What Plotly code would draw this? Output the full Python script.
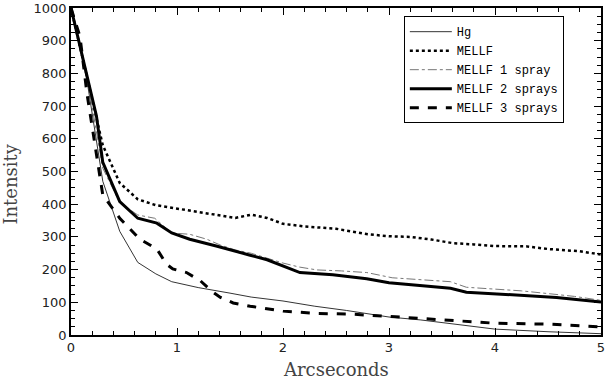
import plotly.graph_objects as go

# Radial profiles
hg_x = [0, 0.15, 0.3, 0.46, 0.63, 0.8, 0.95, 1.2, 1.5, 1.7, 2.0, 2.3, 2.6, 3.0, 3.3, 3.6, 4.0, 4.5, 5.0]
hg_y = [1000, 780, 470, 317, 222, 187, 163, 145, 128, 116, 104, 88, 75, 55, 46, 34, 18, 10, 4]

mellf_x = [0, 0.15, 0.3, 0.46, 0.63, 0.8, 1.0, 1.22, 1.4, 1.55, 1.7, 1.85, 2.0, 2.2, 2.5,
           2.8, 3.0, 3.2, 3.4, 3.6, 3.8, 4.0, 4.3, 4.5, 4.8, 5.0]
mellf_y = [1000, 790, 580, 465, 415, 397, 387, 376, 367, 358, 368, 358, 340, 332, 325,
           308, 302, 300, 292, 281, 277, 272, 271, 263, 256, 246]

spray1_x = [0, 0.15, 0.3, 0.46, 0.63, 0.79, 0.95, 1.12, 1.28, 1.41, 1.55, 1.7, 1.85, 2.0,
            2.15, 2.32, 2.55, 2.79, 3.03, 3.3, 3.58, 3.73, 4.0, 4.25, 4.52, 4.75, 5.0]
spray1_y = [1000, 790, 510, 405, 367, 357, 312, 308, 293, 275, 260, 250, 235, 220,
            208, 199, 196, 191, 175, 170, 163, 146, 141, 135, 126, 118, 106]

spray2_x = [0, 0.15, 0.24, 0.3, 0.46, 0.63, 0.81, 0.95, 1.12, 1.37, 1.53, 1.69, 1.85, 2.0,
            2.16, 2.47, 2.79, 3.0, 3.32, 3.58, 3.73, 4.0, 4.36, 4.58, 5.0]
spray2_y = [1000, 795, 670, 528, 408, 357, 342, 312, 293, 272, 257, 244, 230, 211,
            191, 184, 172, 160, 151, 143, 131, 126, 121, 115, 101]

spray3_x = [0, 0.085, 0.15, 0.24, 0.3, 0.46, 0.65, 0.81, 0.9, 0.96, 1.09, 1.22, 1.34, 1.41,
            1.53, 1.69, 2.0, 2.32, 2.63, 3.0, 3.58, 4.0, 4.52, 5.0]
spray3_y = [1000, 912, 740, 549, 428, 357, 293, 263, 217, 202, 191, 166, 131, 115,
            98, 88, 73, 66, 64, 57, 45, 36, 33, 25]

data = [
    go.Scatter(x=hg_x, y=hg_y, mode='lines', name='Hg',
               line=dict(color='black', width=0.8)),
    go.Scatter(x=mellf_x, y=mellf_y, mode='lines', name='MELLF',
               line=dict(color='black', width=2.5, dash='dot')),
    go.Scatter(x=spray1_x, y=spray1_y, mode='lines', name='MELLF 1 spray',
               line=dict(color='#777777', width=1, dash='dashdot')),
    go.Scatter(x=spray2_x, y=spray2_y, mode='lines', name='MELLF 2 sprays',
               line=dict(color='black', width=3)),
    go.Scatter(x=spray3_x, y=spray3_y, mode='lines', name='MELLF 3 sprays',
               line=dict(color='black', width=3, dash='dash')),
]

axis_common = dict(
    showline=True, linecolor='black', linewidth=1.5, mirror='ticks',
    ticks='inside', ticklen=7, tickwidth=1.2, tickcolor='black',
    showgrid=False, zeroline=False, automargin=False,
    ticklabeloverflow='allow',
    tickfont=dict(family='DejaVu Sans', size=13, color='#222'),
)

title_font = dict(family='DejaVu Serif', size=18, color='#444')

layout = go.Layout(
    width=605, height=380,
    margin=dict(l=71, r=4, t=8, b=45),
    paper_bgcolor='white', plot_bgcolor='white',
    showlegend=True,
    legend=dict(x=0.628, y=0.975, xanchor='left', yanchor='top',
                bordercolor='black', borderwidth=1, bgcolor='white',
                font=dict(family='Liberation Mono', size=12, color='black'),
                tracegroupgap=0, itemwidth=42),
    xaxis=dict(axis_common, range=[0, 5], dtick=1,
               minor=dict(dtick=0.2, ticks='inside', ticklen=4, tickcolor='black')),
    yaxis=dict(axis_common, range=[0, 1000], dtick=100,
               minor=dict(dtick=25, ticks='inside', ticklen=4, tickcolor='black')),
    annotations=[
        dict(text='Arcseconds', xref='paper', yref='paper', x=0.5, y=0,
             xanchor='center', yanchor='middle', yshift=-34, showarrow=False,
             font=title_font),
        dict(text='Intensity', xref='paper', yref='paper', x=0, y=0.46,
             xanchor='center', yanchor='middle', xshift=-60, textangle=-90,
             showarrow=False, font=title_font),
    ],
)

fig = go.Figure(data=data, layout=layout)
# the page body has a default 8px margin; drop it so the figure sits at the corner
fig.write_html('out.html', config={'displayModeBar': False},
               post_script="document.body.style.margin='0';")
